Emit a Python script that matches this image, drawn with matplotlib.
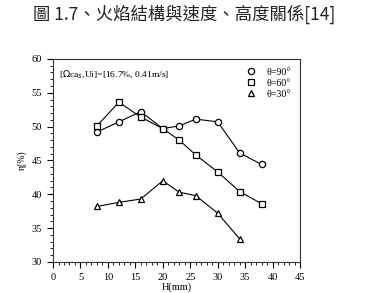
import numpy as np
import matplotlib
matplotlib.use("Agg")
import matplotlib.pyplot as plt
from matplotlib.ticker import MultipleLocator

#------------------------------------ data
h_90 = [8, 12, 16, 20, 23, 26, 30, 34, 38]
eta_90 = [49.2, 50.7, 52.2, 49.7, 50.1, 51.1, 50.7, 46.1, 44.4]

h_60 = [8, 12, 16, 20, 23, 26, 30, 34, 38]
eta_60 = [50.1, 53.6, 51.4, 49.7, 48.0, 45.8, 43.3, 40.4, 38.6]

h_30 = [8, 12, 16, 20, 23, 26, 30, 34]
eta_30 = [38.2, 38.8, 39.3, 42.0, 40.3, 39.8, 37.2, 33.4]

title = "圖 1.7、火焰結構與速度、高度關係[14]"
note = r"[$\Omega$ca$_s$,Ui]=[16.7%, 0.41m/s]"
labels = ["θ=90°", "θ=60°", "θ=30°"]

serif = ["Liberation Serif", "DejaVu Serif"]

fig = plt.figure(figsize=(3.76, 2.93), dpi=100)
axi = fig.add_axes([0.141, 0.106, 0.657, 0.693])

style = dict(color="k", lw=0.8, mfc="white", mec="k", mew=0.9)
axi.plot(h_90, eta_90, marker="o", ms=4.5, label=labels[0], **style)
axi.plot(h_60, eta_60, marker="s", ms=4.5, label=labels[1], **style)
axi.plot(h_30, eta_30, marker="^", ms=4.5, label=labels[2], **style)

axi.set_xlim(0, 45)
axi.set_ylim(30, 60)
axi.xaxis.set_major_locator(MultipleLocator(5))
axi.xaxis.set_minor_locator(MultipleLocator(1))
axi.yaxis.set_major_locator(MultipleLocator(5))
axi.yaxis.set_minor_locator(MultipleLocator(1))
axi.tick_params(which="major", direction="out", length=4, width=0.8,
                labelsize=7.5, pad=4)
axi.tick_params(which="minor", direction="out", length=2.5, width=0.6)
for lab in axi.get_xticklabels() + axi.get_yticklabels():
    lab.set_family(serif)
for sp in axi.spines.values():
    sp.set_linewidth(0.8)
    sp.set_color("#333333")

axi.set_xlabel("H(mm)", family=serif, fontsize=7.5, labelpad=0)
axi.set_ylabel("η(%)", family=serif, fontsize=7, labelpad=3)

axi.text(0.025, 0.955, note, transform=axi.transAxes, family=serif,
         fontsize=6.8, va="top", ha="left")

leg = axi.legend(loc="upper right", frameon=False,
                 handlelength=0, handletextpad=1.6, labelspacing=0.2,
                 borderaxespad=0.5, prop={"family": serif, "size": 7.2})
for line in leg.get_lines():
    line.set_linestyle("none")

fig.text(0.49, 0.952, title, ha="center", va="center", fontsize=12.5,
         family=["Noto Sans CJK TC", "DejaVu Sans"], color="#222222")

fig.savefig("out.png", dpi=100)
